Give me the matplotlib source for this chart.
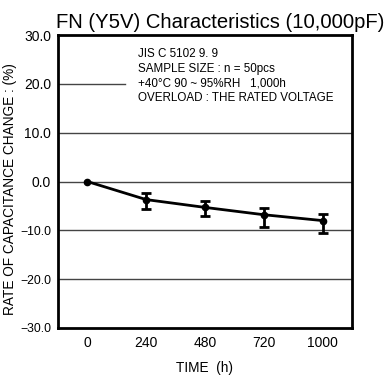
"""
plot.py - FN (Y5V) humidity load test: capacitance change vs time.
"""

import matplotlib
matplotlib.use("Agg")
import matplotlib.pyplot as plt
import numpy as np

# data
time_labels = ["0", "240", "480", "720", "1000"]
mean_change = [0.0, -3.7, -5.3, -6.8, -8.0]
err_upper = [-0.0, -2.3, -3.9, -5.4, -6.6]    # top of error bar
err_lower = [-0.0, -5.6, -7.1, -9.3, -10.5]   # bottom of error bar
y_ticks = [30, 20, 10, 0, -10, -20, -30]
note_lines = [
    "JIS C 5102 9. 9",
    "SAMPLE SIZE : n = 50pcs",
    "+40°C 90 ~ 95%RH   1,000h",
    "OVERLOAD : THE RATED VOLTAGE",
]

plt.rcParams["font.family"] = ["Liberation Sans", "DejaVu Sans"]

fig = plt.figure(figsize=(3.85, 3.76), dpi=100)
ax = fig.add_axes([0.1506, 0.1277, 0.7636, 0.779])

x = np.arange(len(time_labels))
mean = np.array(mean_change)
yerr = np.vstack([mean - np.array(err_lower), np.array(err_upper) - mean])

# horizontal gridlines (the 20 line stops short of the note text)
for t in y_ticks[1:-1]:
    if t == 20:
        ax.plot([-0.5, 0.64], [t, t], color="#444444", lw=1.0, zorder=1)
    else:
        ax.axhline(t, color="#444444", lw=1.0, zorder=1)

ax.plot(x, mean, color="black", lw=2.0, zorder=3)
ax.errorbar(x[1:], mean[1:], yerr=yerr[:, 1:], fmt="none", ecolor="black",
            elinewidth=2.0, capsize=3.8, capthick=2.0, zorder=3)
ax.plot(x, mean, "o", color="black", ms=4.5, zorder=4)

ax.set_xlim(-0.5, 4.5)
ax.set_ylim(-30, 30)
ax.set_xticks(x)
ax.set_xticklabels(time_labels, fontsize=10)
ax.set_yticks(y_ticks)
ax.set_yticklabels([f"{t:.1f}".replace("-", "\u2212") for t in y_ticks])
for lab, t in zip(ax.get_yticklabels(), y_ticks):
    lab.set_fontsize(10 if t >= 0 else 8.8)
ax.tick_params(axis="y", length=0, pad=5)
ax.tick_params(axis="x", length=0, pad=6)

for sp in ax.spines.values():
    sp.set_linewidth(2.0)
    sp.set_color("black")

ax.set_xlabel("TIME  (h)", fontsize=9.8, labelpad=8)
ax.set_ylabel("RATE OF CAPACITANCE CHANGE : (%)", fontsize=9.8)
ax.yaxis.set_label_coords(-0.139, 0.475)

fig.text(0.998, 0.925, "FN (Y5V) Characteristics (10,000pF)",
         ha="right", va="baseline", fontsize=14.6)

for i, line in enumerate(note_lines):
    ax.text(0.272, 0.935 - i * 0.05, line, transform=ax.transAxes,
            fontsize=8.4, va="center", ha="left")

fig.savefig("out.png", dpi=100)
